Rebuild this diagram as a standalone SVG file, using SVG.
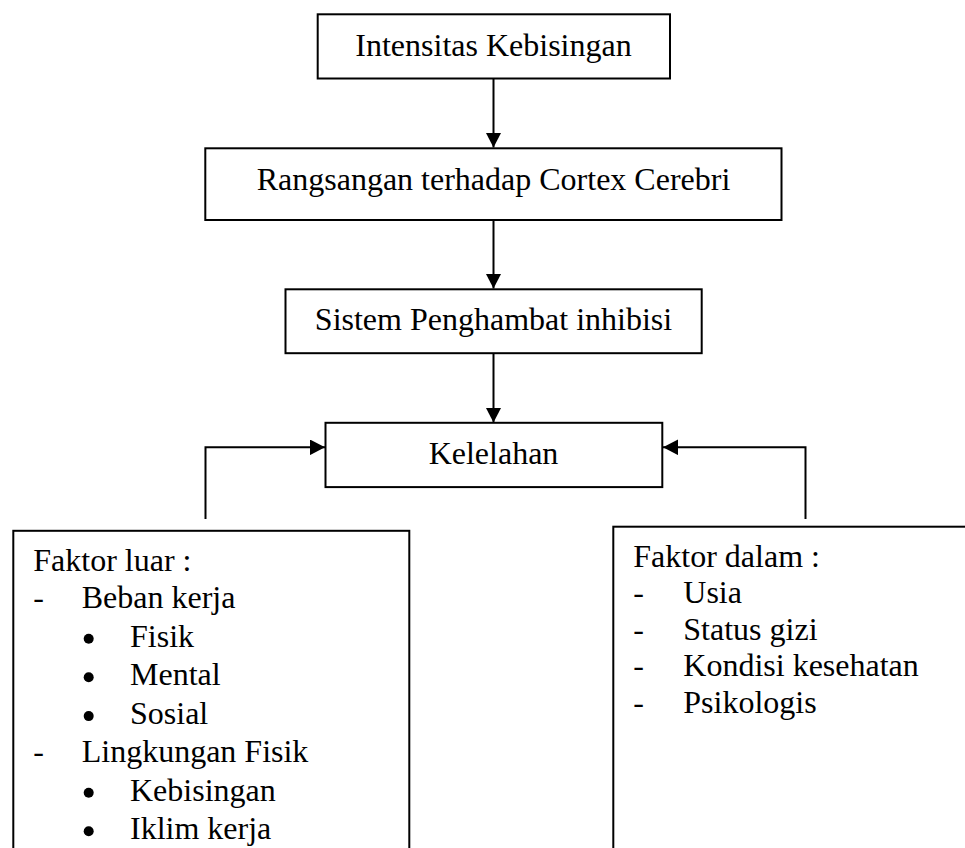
<svg xmlns="http://www.w3.org/2000/svg" width="965" height="848" viewBox="0 0 965 848">
  <style>
    .box { fill: #ffffff; stroke: #000000; stroke-width: 2; }
    .lbl { font-family: "Liberation Serif", "Times New Roman", serif; font-size: 32px; fill: #000000; }
    .mid { text-anchor: middle; }
    .dot { fill: #000000; }
    .con { fill: none; stroke: #000000; stroke-width: 2; }
  </style>
  <defs>
    <marker id="arrow" viewBox="0 0 15 15.6" markerWidth="15" markerHeight="15.6" refX="15" refY="7.8" orient="auto" markerUnits="userSpaceOnUse">
      <path d="M0,0 L15,7.8 L0,15.6 Z" fill="#000000"/>
    </marker>
  </defs>
  <rect width="965" height="848" fill="#ffffff"/>

  <g id="connectors">
    <path class="con" d="M493.5,78 L493.5,147.5" marker-end="url(#arrow)"/>
    <path class="con" d="M493.5,220 L493.5,288.5" marker-end="url(#arrow)"/>
    <path class="con" d="M493.5,353 L493.5,422.5" marker-end="url(#arrow)"/>
    <path class="con" d="M205.5,519 L205.5,447.3 L325,447.3" marker-end="url(#arrow)"/>
    <path class="con" d="M805.5,519 L805.5,447.3 L663,447.3" marker-end="url(#arrow)"/>
  </g>

  <g id="node-intensitas">
    <rect class="box" x="317.7" y="14.3" width="352.3" height="64.2"/>
    <text class="lbl mid" x="493.5" y="56">Intensitas Kebisingan</text>
  </g>

  <g id="node-rangsangan">
    <rect class="box" x="205.3" y="148.3" width="576.2" height="71.7"/>
    <text class="lbl mid" x="493.5" y="189.5">Rangsangan terhadap Cortex Cerebri</text>
  </g>

  <g id="node-sistem">
    <rect class="box" x="285.5" y="289.3" width="416.2" height="63.9"/>
    <text class="lbl mid" x="493.5" y="330">Sistem Penghambat inhibisi</text>
  </g>

  <g id="node-kelelahan">
    <rect class="box" x="325.5" y="422.8" width="336.8" height="64.3"/>
    <text class="lbl mid" x="493.5" y="463.5">Kelelahan</text>
  </g>

  <g id="node-faktor-luar">
    <rect class="box" x="13.3" y="530.8" width="396" height="340"/>
    <text class="lbl" x="33.3" y="570.5">Faktor luar :</text>
    <text class="lbl" x="33.3" y="608">-</text>
    <text class="lbl" x="81.7" y="608">Beban kerja</text>
    <circle class="dot" cx="88.7" cy="638.8" r="5"/>
    <text class="lbl" x="130" y="646.5">Fisik</text>
    <circle class="dot" cx="88.7" cy="677.3" r="5"/>
    <text class="lbl" x="130" y="685">Mental</text>
    <circle class="dot" cx="88.7" cy="716.1" r="5"/>
    <text class="lbl" x="130" y="723.8">Sosial</text>
    <text class="lbl" x="33.3" y="762">-</text>
    <text class="lbl" x="81.7" y="762">Lingkungan Fisik</text>
    <circle class="dot" cx="88.7" cy="792.8" r="5"/>
    <text class="lbl" x="130" y="800.5">Kebisingan</text>
    <circle class="dot" cx="88.7" cy="831.3" r="5"/>
    <text class="lbl" x="130" y="839">Iklim kerja</text>
  </g>

  <g id="node-faktor-dalam">
    <rect class="box" x="613.3" y="526.7" width="380" height="340"/>
    <text class="lbl" x="633.3" y="566.5">Faktor dalam :</text>
    <text class="lbl" x="633.3" y="603">-</text>
    <text class="lbl" x="683.3" y="603">Usia</text>
    <text class="lbl" x="633.3" y="639.5">-</text>
    <text class="lbl" x="683.3" y="639.5">Status gizi</text>
    <text class="lbl" x="633.3" y="676">-</text>
    <text class="lbl" x="683.3" y="676">Kondisi kesehatan</text>
    <text class="lbl" x="633.3" y="712.5">-</text>
    <text class="lbl" x="683.3" y="712.5">Psikologis</text>
  </g>
</svg>
